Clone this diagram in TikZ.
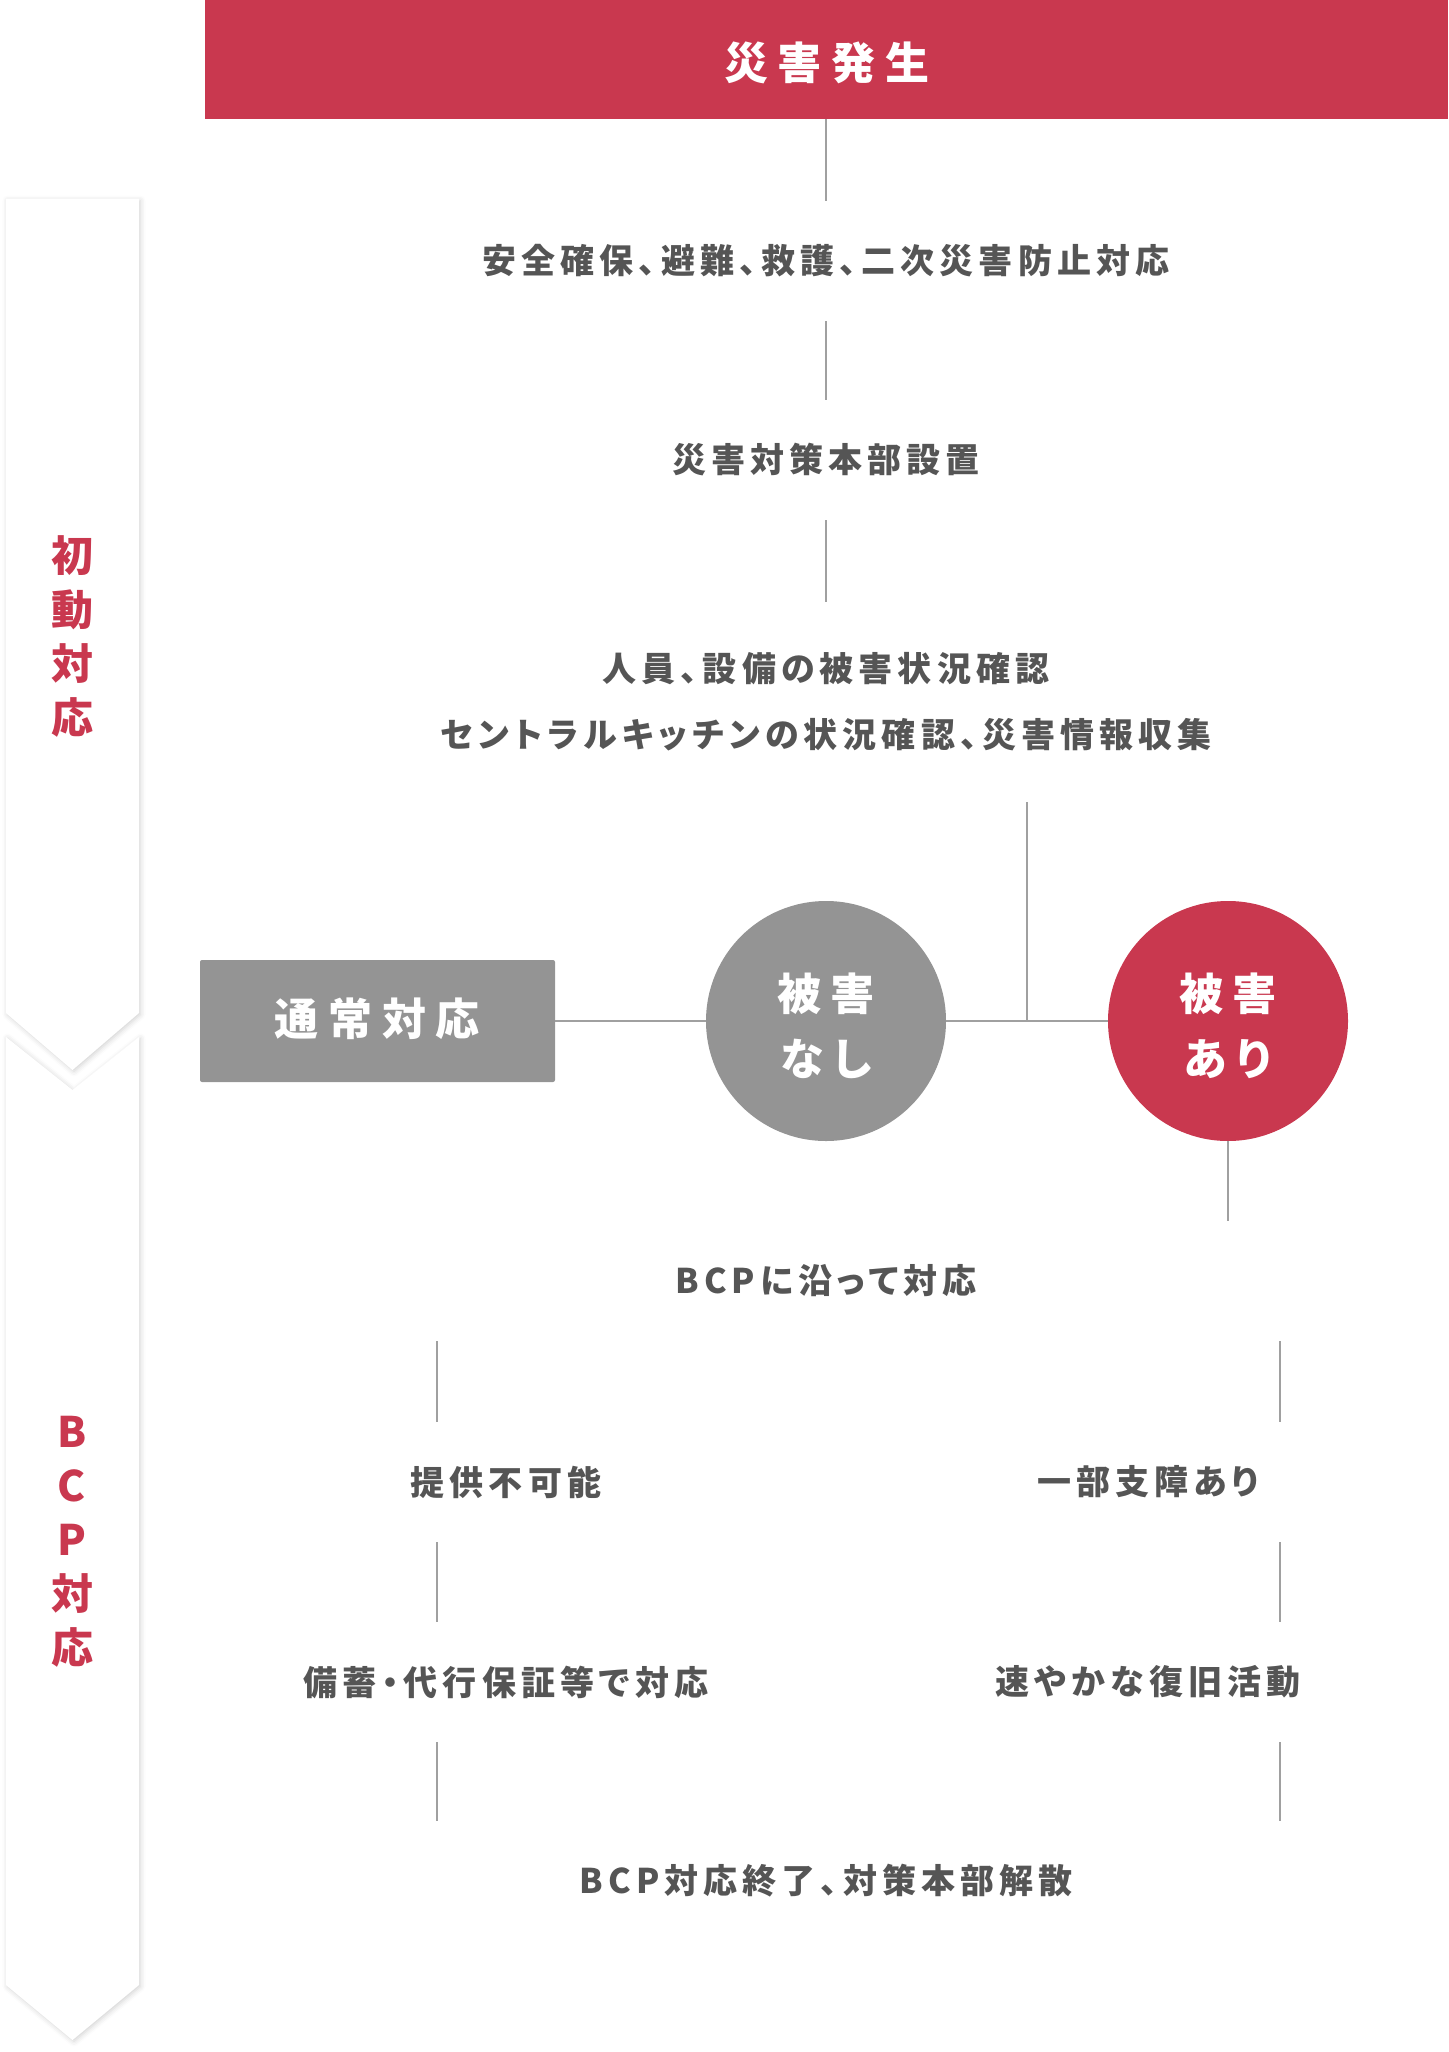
\documentclass[tikz,border=0pt]{standalone}
\usepackage{fontspec}
\setmainfont{Noto Sans CJK JP}[RawFeature=+palt]
\usetikzlibrary{shadows.blur,calc}
\definecolor{bred}{HTML}{C9384F}
\definecolor{bgray}{HTML}{949494}
\definecolor{tgray}{HTML}{555555}
\definecolor{lgray}{HTML}{A0A0A0}
\tikzset{
  steptext/.style={font=\fontsize{34}{66}\selectfont\bfseries\addfontfeature{LetterSpace=15},
    text=tgray, minimum height=120pt, inner sep=0pt, align=center},
  bigtext/.style={font=\fontsize{44}{63}\selectfont\bfseries\addfontfeature{LetterSpace=22},
    text=white, inner sep=0pt, align=center},
  conn/.style={draw=lgray, line width=1.5pt},
  sidearrow/.style={fill=white, blur shadow={shadow xshift=1.5pt, shadow yshift=-1.5pt,
    shadow blur radius=5pt, shadow opacity=18}},
  sidelabel/.style={font=\fontsize{42}{54}\selectfont\bfseries, text=bred, align=center, inner sep=0pt}
}
\begin{document}
\begin{tikzpicture}[x=1pt,y=-1pt]
\useasboundingbox (0,0) rectangle (1448,2052);
% side arrows
\path[sidearrow] (6,199) -- (139,199) -- (139,1013) -- (72.5,1070) -- (6,1013) -- cycle;
\path[sidearrow] (6,1037) -- (72.5,1090) -- (139,1037) -- (139,1985) -- (72.5,2040) -- (6,1985) -- cycle;
\node[sidelabel] (lab1) at (72,636) {初\\動\\対\\応};
\node[sidelabel] (lab2) at (72,1542) {B\\C\\P\\対\\応};
% top bar
\node[bigtext, fill=bred, minimum width=1243pt, minimum height=119pt, anchor=north west] (top) at (205,0) {\raisebox{-3pt}[\height][\depth]{災害発生}};
% steps
\node[steptext] (t1) at (826,261) {安全確保、避難、救護、二次災害防止対応};
\node[steptext] (t2) at (826,460) {災害対策本部設置};
\node[steptext, minimum height=200pt] (t3) at (826,702) {人員、設備の被害状況確認\\セントラルキッチンの状況確認、災害情報収集};
% decision row
\node[bigtext, fill=bgray, minimum width=355pt, minimum height=122pt, rounded corners=2pt] (normal) at (377.5,1021) {\raisebox{2pt}[\height][\depth]{通常対応}};
\node[bigtext, fill=bgray, circle, minimum size=240pt] (c1) at (826,1021) {\raisebox{-5pt}[\height][\depth]{\shortstack{被害\\[22pt]なし}}};
\node[bigtext, fill=bred, circle, minimum size=240pt] (c2) at (1228,1021) {\raisebox{-5pt}[\height][\depth]{\shortstack{被害\\[22pt]あり}}};
\coordinate (j) at ($(c1.east)!0.5!(c2.west)$);
% BCP
\node[steptext] (bcp) at (826,1281) {BCPに沿って対応};
\node[steptext] (a1) at (506,1482) {提供不可能};
\node[steptext] (b1) at (1148,1482) {一部支障あり};
\node[steptext] (a2) at (506,1682) {備蓄・代行保証等で対応};
\node[steptext] (b2) at (1148,1682) {速やかな復旧活動};
\node[steptext] (fin) at (826,1881) {BCP対応終了、対策本部解散};
\coordinate (colL) at (437,0);
\coordinate (colR) at (1280,0);
% connectors
\draw[conn] (top.south -| t1.north) -- (t1.north);
\draw[conn] (t1.south) -- (t2.north);
\draw[conn] (t2.south) -- (t3.north);
\draw[conn] (t3.south -| j) -- (j);
\draw[conn] (normal.east) -- (c1.west);
\draw[conn] (c1.east) -- (c2.west);
\draw[conn] (c2.south) -- (bcp.north -| c2.south);
\draw[conn] (bcp.south -| colL) -- (a1.north -| colL);
\draw[conn] (a1.south -| colL) -- (a2.north -| colL);
\draw[conn] (a2.south -| colL) -- (fin.north -| colL);
\draw[conn] (bcp.south -| colR) -- (b1.north -| colR);
\draw[conn] (b1.south -| colR) -- (b2.north -| colR);
\draw[conn] (b2.south -| colR) -- (fin.north -| colR);
\end{tikzpicture}
\end{document}
